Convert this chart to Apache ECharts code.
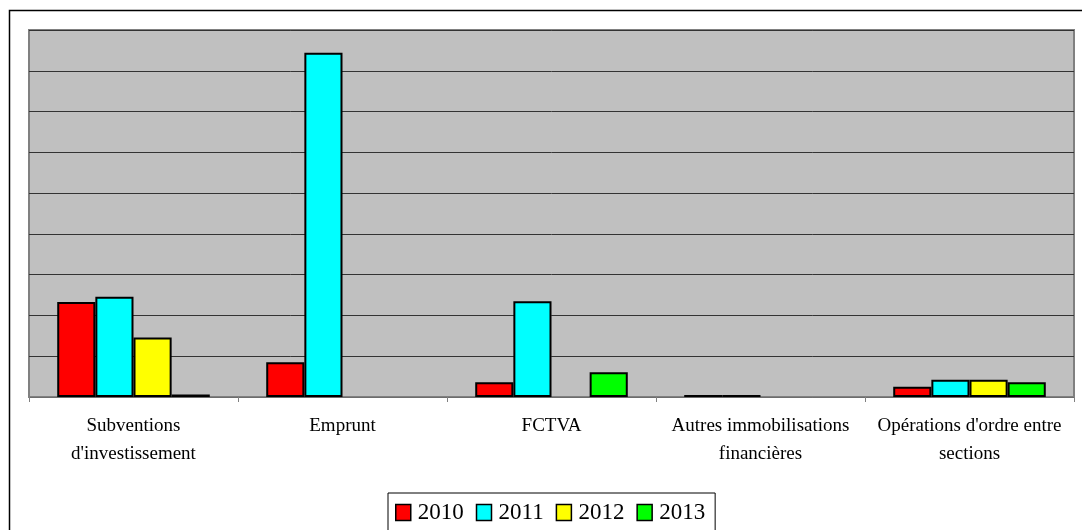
<!DOCTYPE html>
<html>
<head>
<meta charset="utf-8">
<script src="https://cdn.jsdelivr.net/npm/echarts@6/dist/echarts.min.js"></script>
<style>
  html, body { margin: 0; padding: 0; background: #fff; }
  #main { width: 1082px; height: 530px; }
</style>
</head>
<body>
<div id="main"></div>
<script>
var categories = ['Subventions\nd\'investissement', 'Emprunt', 'FCTVA',
                  'Autres immobilisations\nfinancières', 'Opérations d\'ordre entre\nsections'];
var years = ['2010', '2011', '2012', '2013'];
// '-' = pas de valeur (aucune barre dessinée)
var v2010 = [233, 85, 36, 5, 25];
var v2011 = [246, 844, 235, 5, 42];
var v2012 = [146, '-', '-', '-', 42];
var v2013 = [6, '-', 61, '-', 36];
var colors = ['#FF0000', '#00FFFF', '#FFFF00', '#00FF00'];
var serif = "'Liberation Serif', 'Times New Roman', serif";

var myChart = echarts.init(document.getElementById('main'));
var allValues = [v2010, v2011, v2012, v2013];
var series = [];
for (var i = 0; i < years.length; i++) {
  series.push({
    name: years[i],
    type: 'bar',
    data: allValues[i],
    barGap: '0%',
    barCategoryGap: '27%',
    itemStyle: { color: colors[i], borderColor: '#000', borderWidth: 2 }
  });
}

var option = {
  animation: false,
  backgroundColor: '#fff',
  color: colors,
  graphic: [{
    type: 'polyline',
    shape: { points: [[9.5, 560], [9.5, 10.5], [1100, 10.5]] },
    style: { stroke: '#000', lineWidth: 1.5, fill: null }
  }],
  grid: {
    left: 29, right: 8, top: 30, bottom: 133,
    show: true,
    backgroundColor: '#C0C0C0',
    borderColor: '#808080',
    borderWidth: 2
  },
  legend: {
    left: 388, top: 493,
    itemWidth: 15, itemHeight: 16, itemGap: 12,
    icon: 'rect',
    padding: [8, 10, 8, 7],
    borderColor: '#000', borderWidth: 1,
    backgroundColor: '#fff',
    itemStyle: { borderColor: '#000', borderWidth: 1.5 },
    textStyle: { fontFamily: serif, fontSize: 23, color: '#000', padding: [0, 0, 0, 2] },
    data: years
  },
  xAxis: {
    type: 'category',
    data: categories,
    axisLine: { lineStyle: { color: '#808080', width: 1.5 } },
    axisTick: { show: true, interval: 0, length: 5, alignWithLabel: false, lineStyle: { color: '#808080' } },
    axisLabel: { interval: 0, hideOverlap: false, fontFamily: serif, fontSize: 19, color: '#000', lineHeight: 28, margin: 15 }
  },
  yAxis: {
    type: 'value',
    min: 0, max: 900, interval: 100,
    axisLabel: { show: false },
    axisLine: { show: false },
    axisTick: { show: false },
    splitLine: { lineStyle: { color: '#333', width: 1 } }
  },
  series: series
};
myChart.setOption(option);
</script>
</body>
</html>
